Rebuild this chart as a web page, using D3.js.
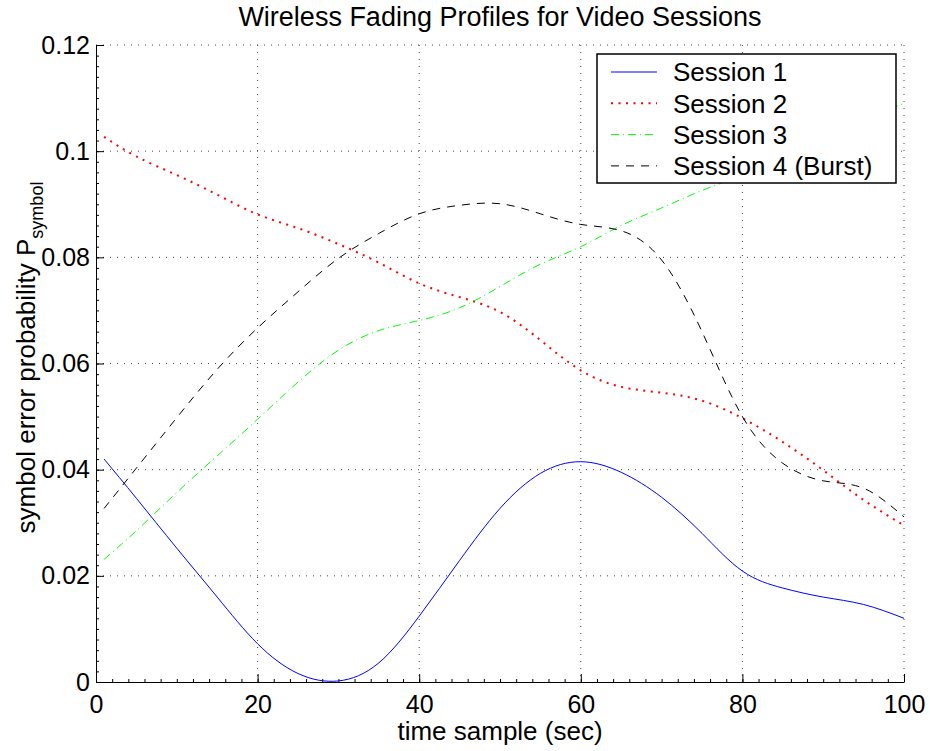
<!DOCTYPE html>
<html>
<head>
<meta charset="utf-8">
<script src="https://cdnjs.cloudflare.com/ajax/libs/d3/7.8.5/d3.min.js"></script>
<style>
  body { margin: 0; background: #fff; }
  text { font-family: "Liberation Sans", Arial, Helvetica, sans-serif; fill: #000; }
</style>
</head>
<body>
<div id="chart"></div>
<script>
// values
const times = [1, 5, 10, 15, 20, 25, 30, 35, 40, 45, 50, 55, 60, 65, 70, 75, 80, 85, 90, 95, 100];
const session1 = [0.0420, 0.0346, 0.0252, 0.0160, 0.0072, 0.0016, 0.0002, 0.0036, 0.0124, 0.0229, 0.0327, 0.0393, 0.0415, 0.0395, 0.0348, 0.0280, 0.0209, 0.0177, 0.0160, 0.0146, 0.0120];
const session2 = [0.1027, 0.0990, 0.0955, 0.0918, 0.0881, 0.0855, 0.0825, 0.0790, 0.0751, 0.0725, 0.0697, 0.0644, 0.0587, 0.0556, 0.0545, 0.0530, 0.0497, 0.0452, 0.0399, 0.0343, 0.0295];
const session3 = [0.0231, 0.0285, 0.0357, 0.0426, 0.0495, 0.0565, 0.0625, 0.0662, 0.0681, 0.0705, 0.0745, 0.0787, 0.0820, 0.0860, 0.0893, 0.0926, 0.0955, 0.0990, 0.1025, 0.1060, 0.1090];
const session4 = [0.0327, 0.0403, 0.0498, 0.0589, 0.0667, 0.0735, 0.0798, 0.0845, 0.0882, 0.0898, 0.0901, 0.0882, 0.0862, 0.0850, 0.0795, 0.0660, 0.0500, 0.0412, 0.0379, 0.0365, 0.0311];
const seriesNames = ["Session 1", "Session 2", "Session 3", "Session 4 (Burst)"];
const xTicks = [0, 20, 40, 60, 80, 100];
const yTicks = [0, 0.02, 0.04, 0.06, 0.08, 0.1, 0.12];
const yTickLabels = ["0", "0.02", "0.04", "0.06", "0.08", "0.1", "0.12"];

let margin = {top: 45, right: 26, bottom: 69, left: 96},
    width = 930 - margin.left - margin.right,
    height = 751 - margin.top - margin.bottom;

let svg = d3.select("#chart")
    .append("svg")
    .attr("width", 930)
    .attr("height", 751)
    .append("g")
    .attr("transform", "translate(" + margin.left + "," + margin.top + ")");

let x = d3.scaleLinear().domain([0, 100]).range([0, width]);
let y = d3.scaleLinear().domain([0, 0.12]).range([height, 0]);

//dotted grid
svg.append("g").selectAll("line")
    .data(xTicks.slice(1))
    .enter().append("line")
    .attr("x1", d => x(d)).attr("x2", d => x(d))
    .attr("y1", 0).attr("y2", height)
    .attr("stroke", "#444").attr("stroke-width", 1)
    .attr("stroke-dasharray", "1,6");
svg.append("g").selectAll("line")
    .data(yTicks.slice(1))
    .enter().append("line")
    .attr("x1", 0).attr("x2", width)
    .attr("y1", d => y(d)).attr("y2", d => y(d))
    .attr("stroke", "#444").attr("stroke-width", 1)
    .attr("stroke-dasharray", "1,6");

//minor ticks
let xMinor = x.ticks(50), yMinor = y.ticks(60);
svg.append("g").attr("transform", "translate(0," + height + ")")
    .call(d3.axisBottom(x).tickValues(xMinor).tickSizeInner(-3).tickSizeOuter(0).tickFormat(""))
    .call(g => g.select(".domain").remove());
svg.append("g")
    .call(d3.axisLeft(y).tickValues(yMinor).tickSizeInner(-3).tickSizeOuter(0).tickFormat(""))
    .call(g => g.select(".domain").remove());

//x axis
svg.append("g")
    .attr("transform", "translate(0," + height + ")")
    .call(d3.axisBottom(x).tickValues(xTicks).tickSizeInner(-8).tickSizeOuter(0).tickPadding(13))
    .call(g => g.selectAll("text").style("font-size", "25px").attr("dy", "0.71em"));

//y axis
svg.append("g")
    .call(d3.axisLeft(y).tickValues(yTicks).tickSizeInner(-8).tickSizeOuter(0).tickPadding(6)
        .tickFormat((d, i) => yTickLabels[i]))
    .call(g => g.selectAll("text").style("font-size", "25px"));

svg.selectAll(".domain").attr("stroke", "#000");
svg.selectAll(".tick line").attr("stroke", "#000");

//lines
let lineData = [
    {name: seriesNames[0], values: session1, color: "#0000ff", width: 1, dash: null},
    {name: seriesNames[1], values: session2, color: "#ff0000", width: 2, dash: "2,5.5"},
    {name: seriesNames[2], values: session3, color: "#00ff00", width: 1, dash: "8,4,1,4"},
    {name: seriesNames[3], values: session4, color: "#000000", width: 1, dash: "8,7"}
];
let line = d3.line()
    .x((d, i) => x(times[i]))
    .y(d => y(Math.max(d, 0)))
    .curve(d3.curveNatural);
svg.selectAll("myLines")
    .data(lineData)
    .enter()
    .append("path")
    .attr("d", d => line(d.values))
    .attr("fill", "none")
    .attr("stroke", d => d.color)
    .attr("stroke-width", d => d.width)
    .attr("stroke-dasharray", d => d.dash);

//legend
let legend = svg.append("g").attr("transform", "translate(" + (597 - margin.left) + "," + (54 - margin.top) + ")");
legend.append("rect")
    .attr("width", 299).attr("height", 129)
    .attr("fill", "#fff").attr("stroke", "#000").attr("stroke-width", 1.5);
let items = legend.selectAll("myLegend")
    .data(lineData)
    .enter().append("g")
    .attr("transform", (d, i) => "translate(0," + (18 + i * 31.3) + ")");
items.append("line")
    .attr("x1", 14).attr("x2", 60)
    .attr("stroke", d => d.color)
    .attr("stroke-width", d => d.width)
    .attr("stroke-dasharray", d => d.dash);
items.append("text")
    .attr("x", 76).attr("dy", "0.36em")
    .style("font-size", "26px")
    .text(d => d.name);

//title and labels
svg.append("text")
    .attr("x", width / 2).attr("y", -19)
    .attr("text-anchor", "middle")
    .style("font-size", "27px")
    .text("Wireless Fading Profiles for Video Sessions");
svg.append("text")
    .attr("x", width / 2).attr("y", height + 58)
    .attr("text-anchor", "middle")
    .style("font-size", "26px")
    .text("time sample (sec)");
let ylab = svg.append("text")
    .attr("transform", "translate(" + (35 - margin.left) + "," + (height / 2 - 6) + ") rotate(-90)")
    .attr("text-anchor", "middle")
    .style("font-size", "26px");
ylab.append("tspan").text("symbol error probability P");
ylab.append("tspan").attr("dy", 8).style("font-size", "18px").text("symbol");
</script>
</body>
</html>
